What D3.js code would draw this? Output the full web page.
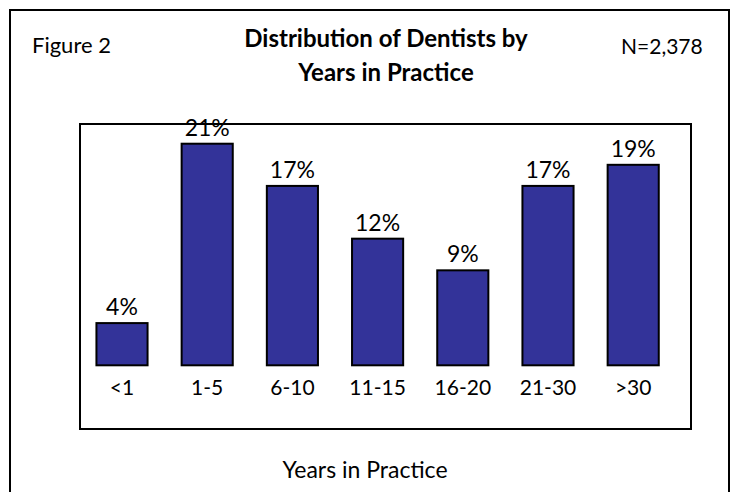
<!DOCTYPE html>
<html>
<head>
<meta charset="utf-8">
<script src="https://cdn.jsdelivr.net/npm/d3@7"></script>
<style>
  html, body { margin: 0; padding: 0; background: #fff; }
  svg { display: block; font-family: Lato, "Open Sans", sans-serif; }
</style>
</head>
<body>
<svg id="chart" width="733" height="492"></svg>
<script>
const categories = ["<1", "1-5", "6-10", "11-15", "16-20", "21-30", ">30"];
const percentages = [4, 21, 17, 12, 9, 17, 19];
const valueLabels = ["4%", "21%", "17%", "12%", "9%", "17%", "19%"];
const figureLabel = "Figure 2";
const titleLines = ["Distribution of Dentists by", "Years in Practice"];
const sampleLabel = "N=2,378";
const xAxisTitle = "Years in Practice";

const svg = d3.select("#chart");

// outer frame (bottom edge runs off the page)
svg.append("rect")
  .attr("x", 10).attr("y", 10)
  .attr("width", 719).attr("height", 500)
  .attr("fill", "#fff").attr("stroke", "#000").attr("stroke-width", 2);

// header texts
svg.append("text").attr("x", 32).attr("y", 52.5)
  .attr("font-size", 22).attr("fill", "#000").text(figureLabel);
svg.append("text").attr("x", 621).attr("y", 53.5)
  .attr("font-size", 21).attr("fill", "#000").text(sampleLabel);
svg.selectAll("text.title").data(titleLines).join("text")
  .attr("class", "title")
  .attr("x", 386).attr("y", (d, i) => 47 + i * 33.5)
  .attr("text-anchor", "middle")
  .attr("font-size", 24).attr("font-weight", "bold").attr("fill", "#000")
  .text(d => d);

// plot area box
svg.append("rect")
  .attr("x", 80).attr("y", 124)
  .attr("width", 611).attr("height", 305)
  .attr("fill", "#fff").attr("stroke", "#000").attr("stroke-width", 2);

const x = d3.scaleBand().domain(categories)
  .range([79.4, 675.8]).paddingInner(0.4).paddingOuter(0.2);
const y = d3.scaleLinear().domain([0, 25]).range([365.3, 101.5]);

const data = categories.map((c, i) => ({ c, v: percentages[i], label: valueLabels[i] }));

svg.append("g").selectAll("rect").data(data).join("rect")
  .attr("x", d => x(d.c))
  .attr("y", d => y(d.v))
  .attr("width", x.bandwidth())
  .attr("height", d => y(0) - y(d.v))
  .attr("fill", "#333399")
  .attr("stroke", "#000").attr("stroke-width", 2);

svg.append("g").selectAll("text").data(data).join("text")
  .attr("x", d => x(d.c) + x.bandwidth() / 2)
  .attr("y", d => y(d.v) - 8)
  .attr("text-anchor", "middle")
  .attr("font-size", 23).attr("fill", "#000")
  .text(d => d.label);

const axis = svg.append("g")
  .attr("transform", `translate(0,${y(0)})`)
  .call(d3.axisBottom(x).tickSize(0).tickPadding(15));
axis.select(".domain").remove();
axis.selectAll("text")
  .attr("font-size", 21).attr("fill", "#000")
  .attr("font-family", "Lato, 'Open Sans', sans-serif");

svg.append("text").attr("x", 365).attr("y", 478)
  .attr("text-anchor", "middle")
  .attr("font-size", 23).attr("fill", "#000").text(xAxisTitle);
</script>
</body>
</html>
